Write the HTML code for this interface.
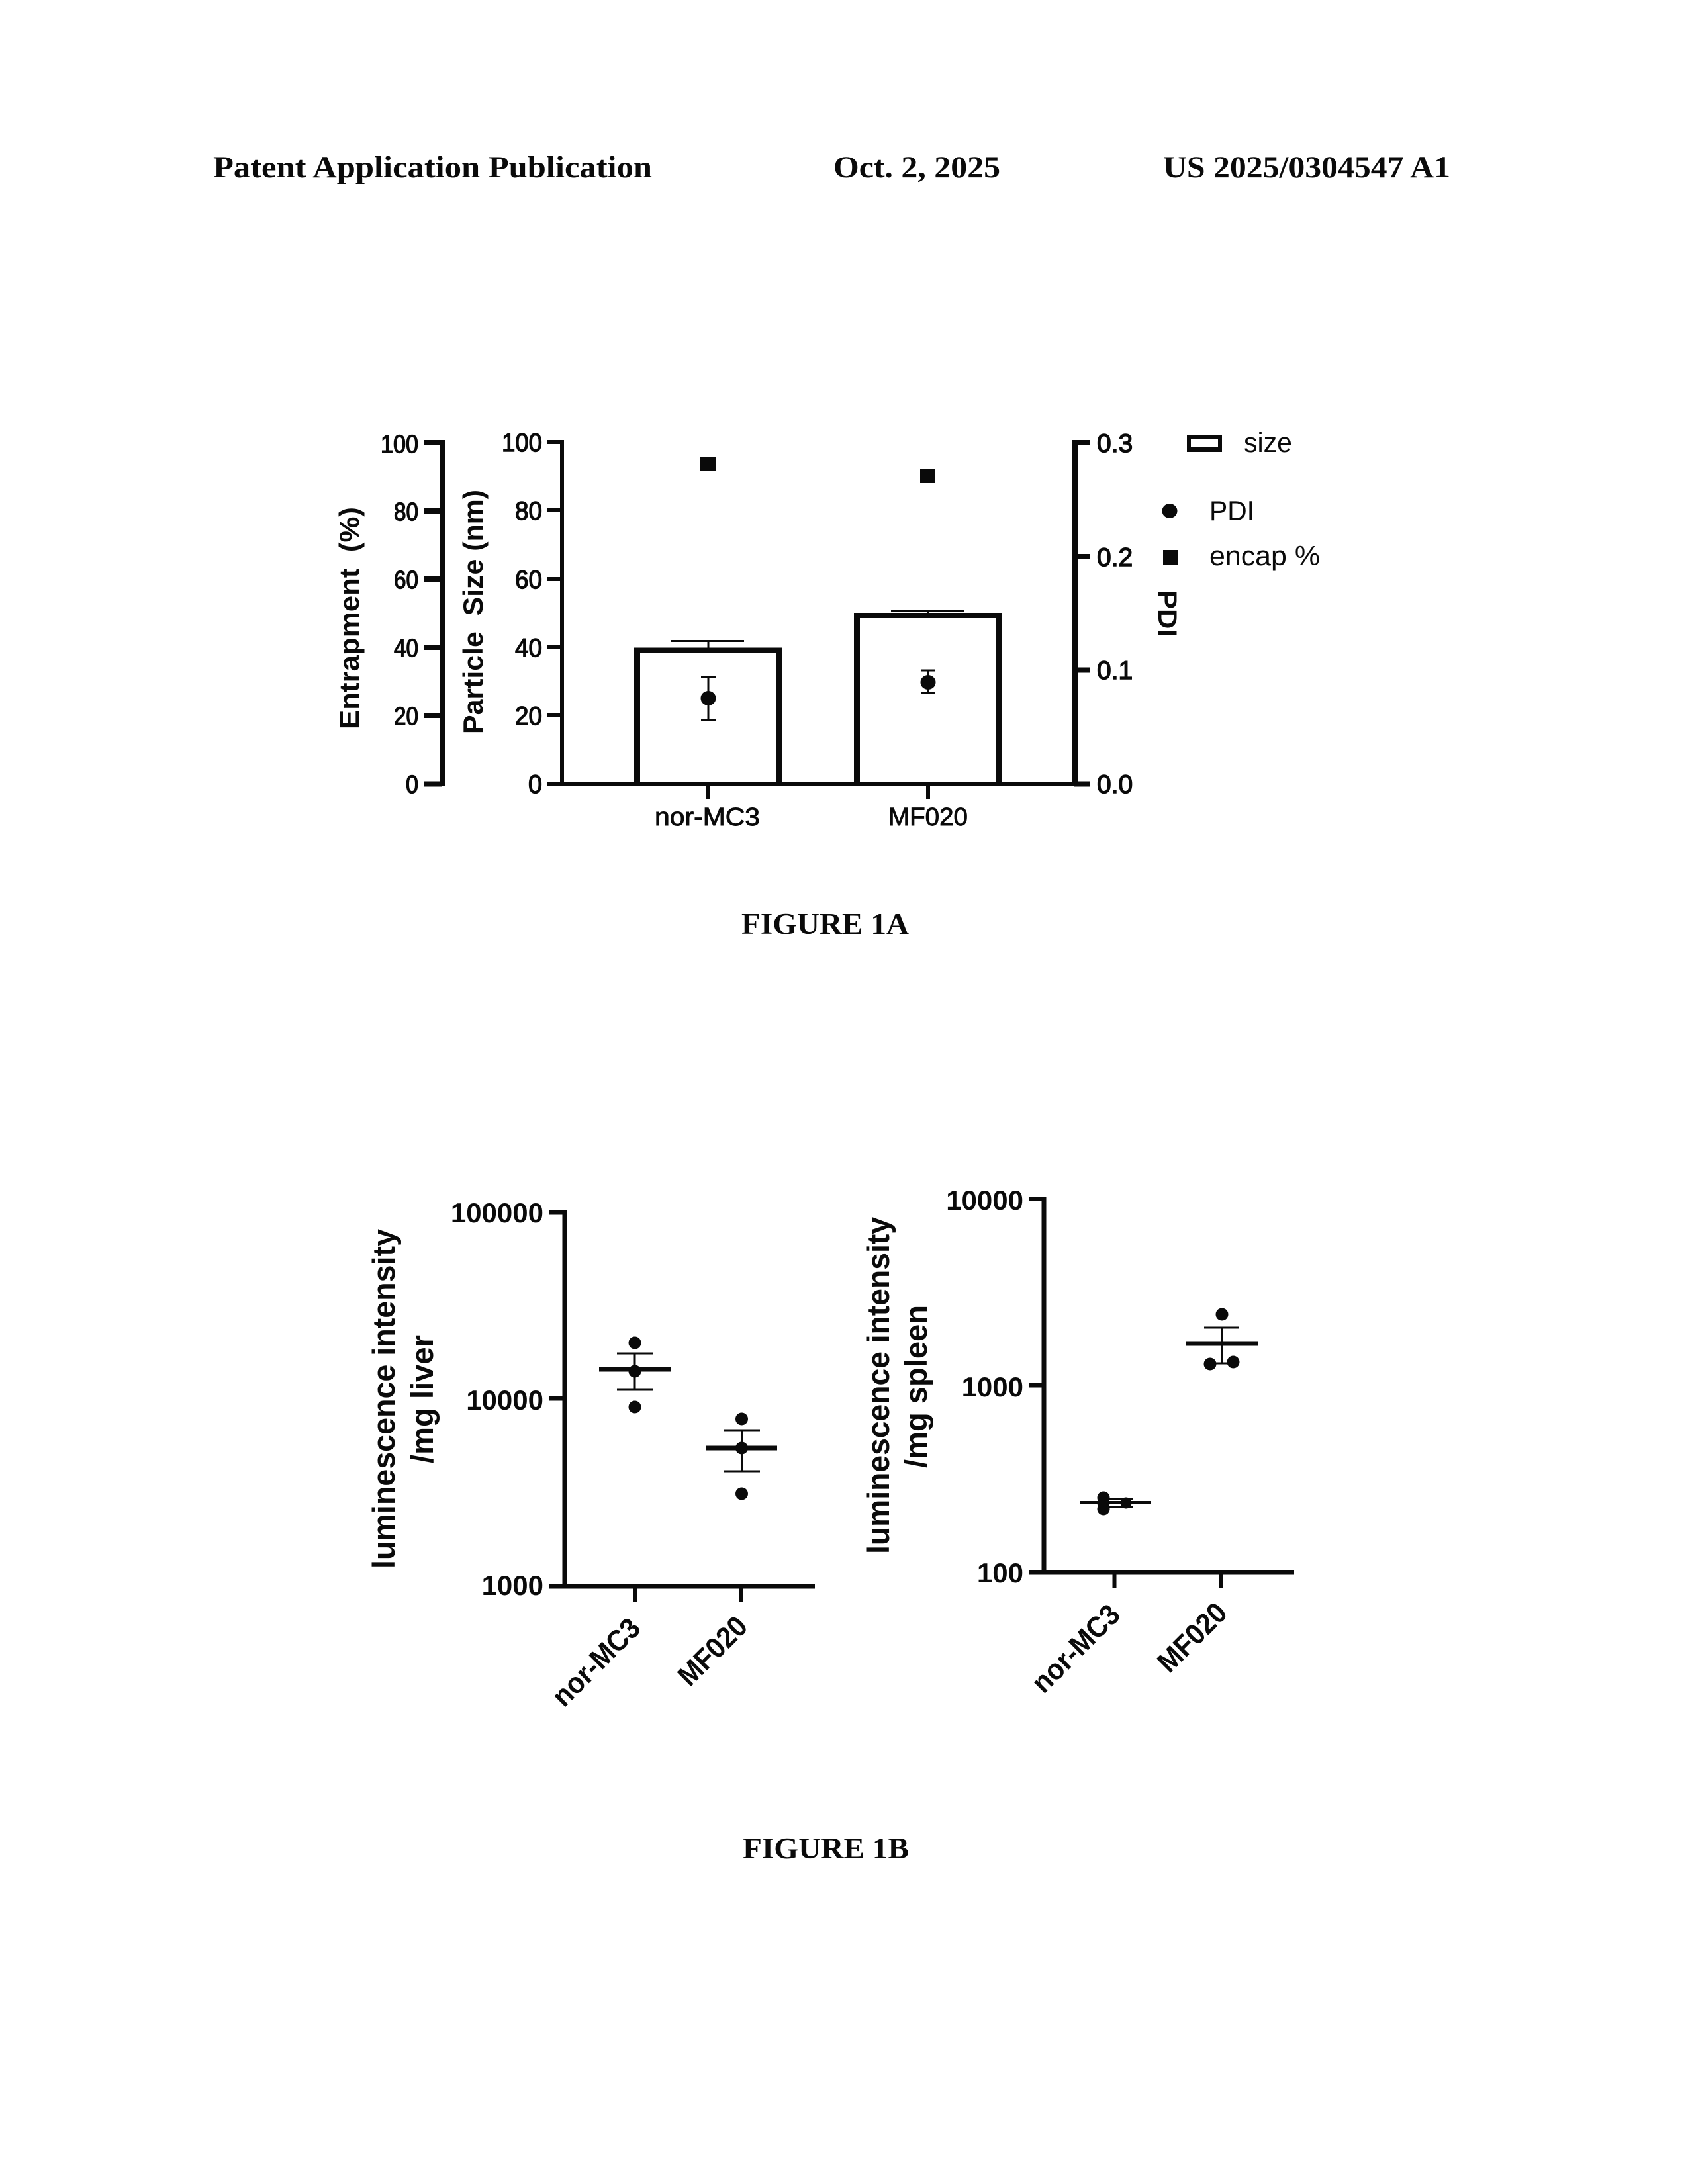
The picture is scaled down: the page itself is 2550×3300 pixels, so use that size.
<!DOCTYPE html>
<html><head><meta charset="utf-8"><style>
html,body{margin:0;padding:0;background:#fff}
svg{display:block}
text{fill:#0a0a0a;font-family:"Liberation Sans",sans-serif}
.s{font-family:"Liberation Serif",serif;font-weight:bold}
.b{font-weight:bold}
.l{stroke:#0a0a0a;stroke-width:.9}
.m{stroke:#0a0a0a;stroke-width:1.4}
</style></head><body>
<svg xmlns="http://www.w3.org/2000/svg" width="2550" height="3300" viewBox="0 0 2550 3300">
<rect width="2550" height="3300" fill="#fff"/>
<!-- header -->
<text class="s" x="322" y="268" font-size="47" textLength="663" lengthAdjust="spacingAndGlyphs">Patent Application Publication</text>
<text class="s" x="1259" y="268" font-size="47" textLength="252" lengthAdjust="spacingAndGlyphs">Oct. 2, 2025</text>
<text class="s" x="1757" y="268" font-size="47" textLength="434" lengthAdjust="spacingAndGlyphs">US 2025/0304547 A1</text>

<!-- FIG 1A axes -->
<g stroke="#0a0a0a" fill="none">
<path d="M668.500 665V1188" stroke-width="7"/>
<path d="M640 669H668M640 772H668M640 875H668M640 978H668M640 1081H668M640 1184.500H668" stroke-width="8"/>
<path d="M849 665V1185" stroke-width="6"/>
<path d="M826 668H849M826 771H849M826 875H849M826 978H849M826 1081H849" stroke-width="6"/>
<path d="M826 1184.500H1624" stroke-width="7"/>
<path d="M1623.500 665V1188" stroke-width="9"/>
<path d="M1623 669H1647M1623 841H1647M1623 1012.500H1647M1623 1184.500H1647" stroke-width="8"/>
<!-- bars -->
<path d="M962.500 1185V986M1177 1185V986" stroke-width="9"/>
<path d="M958 982.500H1181" stroke-width="8"/>
<path d="M1294.500 1185V934M1509 1185V934" stroke-width="9"/>
<path d="M1290 930H1513" stroke-width="8"/>
<path d="M1014 968.500H1124M1346 923H1457M1070 968.500V979M1402 923V926" stroke-width="3"/>
<!-- PDI errors -->
<path d="M1070 1023.500V1088M1059 1023.500H1081M1059 1088H1081M1402 1013V1047.500M1391 1013H1413M1391 1047.500H1413" stroke-width="3"/>
<path d="M1070 1185V1207M1402 1185V1207" stroke-width="6"/>
<!-- legend box -->
<rect x="1793" y="658" width="53" height="25" fill="#0a0a0a" stroke="none"/>
<rect x="1799" y="664" width="41" height="12" fill="#fff" stroke="none"/>
</g>
<g fill="#0a0a0a">
<ellipse cx="1070" cy="1055" rx="11.500" ry="11"/>
<ellipse cx="1402" cy="1031" rx="11.500" ry="11"/>
<rect x="1058" y="691" width="23" height="21"/>
<rect x="1390" y="709" width="23" height="21"/>
<ellipse cx="1767" cy="772" rx="11.500" ry="11"/>
<rect x="1757" y="831" width="22" height="22"/>
</g>
<g>
<text class="m" x="575" y="684" font-size="38" textLength="57" lengthAdjust="spacingAndGlyphs">100</text>
<text class="m" x="595" y="786" font-size="38" textLength="37" lengthAdjust="spacingAndGlyphs">80</text>
<text class="m" x="595" y="889" font-size="38" textLength="37" lengthAdjust="spacingAndGlyphs">60</text>
<text class="m" x="595" y="992" font-size="38" textLength="37" lengthAdjust="spacingAndGlyphs">40</text>
<text class="m" x="595" y="1095" font-size="38" textLength="37" lengthAdjust="spacingAndGlyphs">20</text>
<text class="m" x="613" y="1198" font-size="38" textLength="19" lengthAdjust="spacingAndGlyphs">0</text>
<text class="m" x="758" y="682" font-size="39" textLength="61" lengthAdjust="spacingAndGlyphs">100</text>
<text class="m" x="778" y="785" font-size="39" textLength="41" lengthAdjust="spacingAndGlyphs">80</text>
<text class="m" x="778" y="889" font-size="39" textLength="41" lengthAdjust="spacingAndGlyphs">60</text>
<text class="m" x="778" y="992" font-size="39" textLength="41" lengthAdjust="spacingAndGlyphs">40</text>
<text class="m" x="778" y="1095" font-size="39" textLength="41" lengthAdjust="spacingAndGlyphs">20</text>
<text class="m" x="798" y="1198" font-size="39" textLength="21" lengthAdjust="spacingAndGlyphs">0</text>
</g>
<g font-size="39">
<text class="m" x="1657" y="683">0.3</text><text class="m" x="1657" y="855">0.2</text><text class="m" x="1657" y="1026">0.1</text><text class="m" x="1657" y="1198">0.0</text>
</g>
<text class="l" x="989" y="1247" font-size="38" textLength="159" lengthAdjust="spacingAndGlyphs">nor-MC3</text>
<text class="l" x="1342" y="1247" font-size="38" textLength="120" lengthAdjust="spacingAndGlyphs">MF020</text>
<text x="1879" y="683" font-size="42" textLength="73" lengthAdjust="spacingAndGlyphs">size</text>
<text x="1827" y="786" font-size="42" textLength="68" lengthAdjust="spacingAndGlyphs">PDI</text>
<text x="1827" y="854" font-size="42" textLength="167" lengthAdjust="spacingAndGlyphs">encap %</text>
<text class="b" transform="translate(542,1102) rotate(-90)" font-size="42" xml:space="preserve" textLength="336" lengthAdjust="spacingAndGlyphs">Entrapment  (%)</text>
<text class="b" transform="translate(729,1109) rotate(-90)" font-size="42" xml:space="preserve" textLength="369" lengthAdjust="spacingAndGlyphs">Particle  Size (nm)</text>
<text class="b" transform="translate(1750,892) rotate(90)" font-size="40" textLength="70" lengthAdjust="spacingAndGlyphs">PDI</text>
<text class="s" x="1120" y="1411" font-size="45" textLength="253" lengthAdjust="spacingAndGlyphs">FIGURE 1A</text>

<!-- FIG 1B left -->
<g stroke="#0a0a0a" fill="none">
<path d="M853 1829V2399" stroke-width="7"/>
<path d="M829 1832H853M829 2113H853" stroke-width="7"/>
<path d="M829 2397H1231" stroke-width="7"/>
<path d="M959 2397V2421M1119 2397V2421" stroke-width="6"/>
<path d="M905 2069H1013M1066 2188H1174" stroke-width="7"/>
<path d="M932 2045H986M932 2100H986M959 2045V2100M1093 2161H1148M1093 2223H1148M1120.500 2161V2223" stroke-width="3"/>
</g>
<g fill="#0a0a0a">
<circle cx="959" cy="2029" r="9.500"/><circle cx="959" cy="2072" r="9.500"/><circle cx="959" cy="2126" r="9.500"/>
<circle cx="1120.500" cy="2144" r="9.500"/><circle cx="1120.500" cy="2188" r="9.500"/><circle cx="1120.500" cy="2257" r="9.500"/>
</g>
<g text-anchor="end">
<text class="b" x="821" y="1847" font-size="42">100000</text>
<text class="b" x="821" y="2130" font-size="42">10000</text>
<text class="b" x="821" y="2410" font-size="42">1000</text>
</g>
<text class="b" transform="translate(596,2370) rotate(-90)" font-size="47" textLength="513" lengthAdjust="spacingAndGlyphs">luminescence intensity</text>
<text class="b" transform="translate(654,2211) rotate(-90)" font-size="47" textLength="194" lengthAdjust="spacingAndGlyphs">/mg liver</text>
<text class="b" transform="translate(852,2581) rotate(-45)" font-size="44" textLength="167" lengthAdjust="spacingAndGlyphs">nor-MC3</text>
<text class="b" transform="translate(1042,2550) rotate(-45)" font-size="44" textLength="127" lengthAdjust="spacingAndGlyphs">MF020</text>

<!-- FIG 1B right -->
<g stroke="#0a0a0a" fill="none">
<path d="M1577 1808V2379" stroke-width="7"/>
<path d="M1554 1811.500H1577M1554 2093H1577" stroke-width="7"/>
<path d="M1554 2376H1955" stroke-width="7"/>
<path d="M1683.500 2376V2400M1845 2376V2400" stroke-width="6"/>
<path d="M1631 2270.500H1739" stroke-width="5"/>
<path d="M1792 2030H1900" stroke-width="7"/>
<path d="M1658 2265H1711M1658 2276.500H1711M1819 2006H1872M1819 2060H1872M1846 2006V2060" stroke-width="3"/>
</g>
<g fill="#0a0a0a">
<circle cx="1667" cy="2263" r="9.500"/><circle cx="1667" cy="2271" r="9.500"/><circle cx="1667" cy="2280" r="9.500"/><circle cx="1701" cy="2271" r="8.500"/>
<circle cx="1846" cy="1986" r="9.500"/><circle cx="1828" cy="2061" r="9.500"/><circle cx="1863" cy="2058" r="9.500"/>
</g>
<g text-anchor="end">
<text class="b" x="1546" y="1828" font-size="42">10000</text>
<text class="b" x="1546" y="2110" font-size="42">1000</text>
<text class="b" x="1546" y="2391" font-size="42">100</text>
</g>
<text class="b" transform="translate(1343,2348) rotate(-90)" font-size="47" textLength="509" lengthAdjust="spacingAndGlyphs">luminescence intensity</text>
<text class="b" transform="translate(1400,2218) rotate(-90)" font-size="47" textLength="246" lengthAdjust="spacingAndGlyphs">/mg spleen</text>
<text class="b" transform="translate(1576.500,2560.500) rotate(-45)" font-size="44" textLength="167" lengthAdjust="spacingAndGlyphs">nor-MC3</text>
<text class="b" transform="translate(1766.500,2529.500) rotate(-45)" font-size="44" textLength="127" lengthAdjust="spacingAndGlyphs">MF020</text>
<text class="s" x="1122" y="2808" font-size="45" textLength="251" lengthAdjust="spacingAndGlyphs">FIGURE 1B</text>
</svg>
</body></html>
